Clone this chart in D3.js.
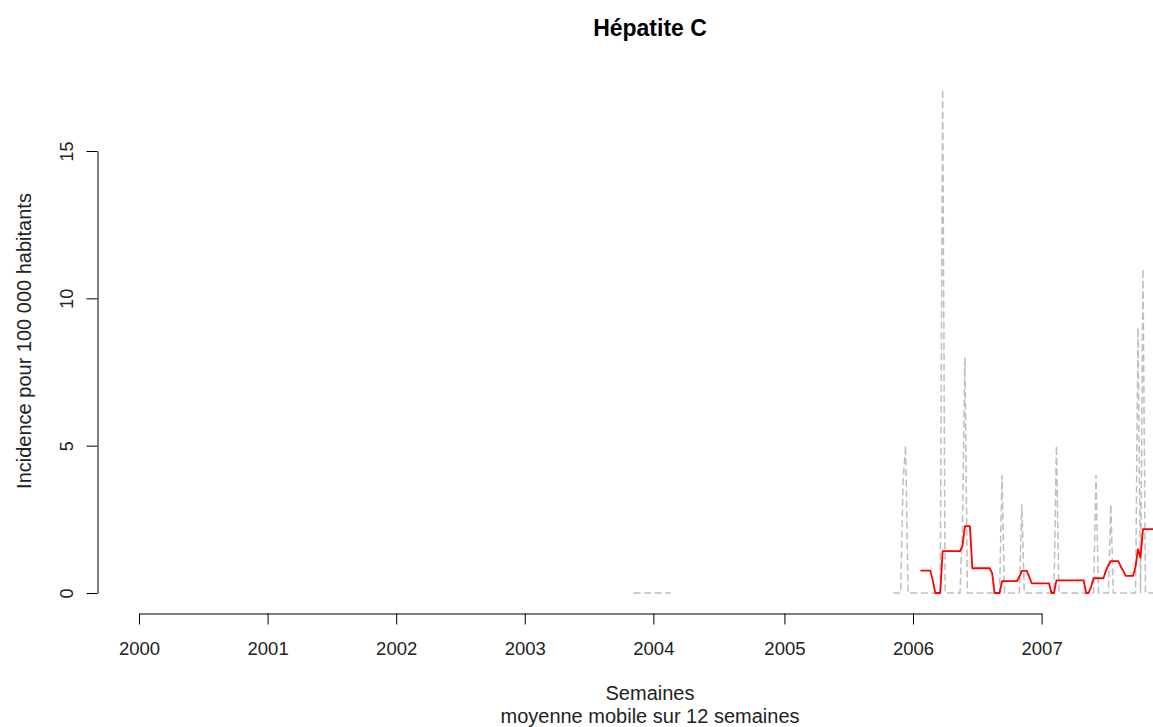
<!DOCTYPE html>
<html>
<head>
<meta charset="utf-8">
<script src="https://cdn.jsdelivr.net/npm/d3@7/dist/d3.min.js"></script>
<style>
  html, body { margin: 0; padding: 0; background: #fff; }
  svg { display: block; font-family: "Liberation Sans", Arial, sans-serif; }
</style>
</head>
<body>
<svg id="chart" width="1153" height="727"></svg>
<script>
// Weekly incidence per 100 000 inhabitants, indexed by week since the first week of 2000.
const earlyFirstWeek = 200;
const earlyIncidence = [0, 0, 0, 0, 0, 0, 0, 0, 0, 0, 0, 0, 0, 0, 0, 0];

const weeklyFirstWeek = 305;
const weeklyIncidence = [
  0, 0, 0, 0, 3.8, 5.0, 0, 0, 0, 0,            // 305-314
  0, 0, 0, 0, 0, 0, 0, 0, 0, 0,                // 315-324
  17.1, 0, 0, 0, 0, 0, 0, 0, 2.2, 8.0,         // 325-334
  0, 0, 0, 0, 0, 0, 0, 0, 0, 0,                // 335-344
  0, 0, 0, 0, 4.0, 0, 0, 0, 0, 0,              // 345-354
  0, 0, 3.0, 0, 0, 0, 0, 0, 0, 0,              // 355-364
  0, 0, 0, 0, 0, 0, 5.0, 0, 0, 0,              // 365-374
  0, 0, 0, 0, 0, 0, 0, 0, 0, 0,                // 375-384
  0, 0, 4.0, 0, 0, 0, 0, 0, 3.0, 0,            // 385-394
  0, 0, 0, 0, 0, 0, 0, 0, 0, 9.0,              // 395-404
  0, 11.0, 0, 0, 0, 0, 0, 0, 0                 // 405-413
];

// 12-week moving average
const smoothFirstWeek = 316;
const smoothIncidence = [
  0.76, 0.76, 0.76, 0.76, 0.76, 0.42, 0, 0, 0, 1.42,       // 316-325
  1.42, 1.42, 1.42, 1.42, 1.42, 1.42, 1.42, 1.6, 2.27, 2.27, // 326-335
  2.27, 0.84, 0.84, 0.84, 0.84, 0.84, 0.84, 0.84, 0.84, 0.67, // 336-345
  0, 0, 0, 0.4, 0.4, 0.4, 0.4, 0.4, 0.4, 0.4,                // 346-355
  0.55, 0.75, 0.75, 0.75, 0.55, 0.33, 0.33, 0.33, 0.33, 0.33, // 356-365
  0.33, 0.33, 0.33, 0, 0, 0.43, 0.43, 0.43, 0.43, 0.43,       // 366-375
  0.43, 0.43, 0.43, 0.43, 0.43, 0.43, 0.43, 0, 0, 0.2,        // 376-385
  0.5, 0.5, 0.5, 0.5, 0.5, 0.75, 0.95, 1.08, 1.08, 1.08,      // 386-395
  1.08, 0.9, 0.75, 0.58, 0.58, 0.58, 0.58, 0.9, 1.49, 1.2,    // 396-405
  2.17, 2.17, 2.17, 2.17, 2.17, 2.17, 2.17, 2.17              // 406-413
];

// Axis ticks: first week of each year, and y ticks
const yearStartWeeks = [0, 52, 104, 156, 208, 261, 313, 365];
const yearLabels = ["2000", "2001", "2002", "2003", "2004", "2005", "2006", "2007"];
const yTicks = [0, 5, 10, 15];

const svg = d3.select("#chart");

const x = d3.scaleLinear().domain([0, 365]).range([139, 1041.6]);
const y = d3.scaleLinear().domain([0, 15]).range([593, 151]);

const toPoints = (first, values) => values.map((v, i) => ({ w: first + i, v }));

const line = d3.line().x(d => x(d.w)).y(d => y(d.v));

// weekly series, grey dashed
[toPoints(earlyFirstWeek, earlyIncidence), toPoints(weeklyFirstWeek, weeklyIncidence)]
  .forEach(seg => {
    svg.append("path")
      .datum(seg)
      .attr("d", line)
      .attr("fill", "none")
      .attr("stroke", "#bebebe")
      .attr("stroke-width", 1.5)
      .attr("stroke-dasharray", "7,3.5");
  });

// moving average, red
svg.append("path")
  .datum(toPoints(smoothFirstWeek, smoothIncidence))
  .attr("d", line)
  .attr("fill", "none")
  .attr("stroke", "#ff0000")
  .attr("stroke-width", 1.8)
  .attr("stroke-linejoin", "round");

// y axis
const yAxis = svg.append("g")
  .attr("transform", "translate(97.5,0)")
  .call(d3.axisLeft(y).tickValues(yTicks).tickSize(11).tickSizeOuter(0));
yAxis.selectAll("text")
  .attr("x", 0).attr("dy", 0)
  .attr("text-anchor", "middle")
  .attr("transform", "translate(-25,0) rotate(-90)")
  .attr("fill", "#222")
  .style("font-size", "18px");

// x axis
const xAxis = svg.append("g")
  .attr("transform", "translate(0,613.5)")
  .call(d3.axisBottom(x).tickValues(yearStartWeeks)
    .tickFormat((d, i) => yearLabels[i]).tickSize(11).tickSizeOuter(0).tickPadding(17));
xAxis.selectAll("text").attr("fill", "#222").style("font-size", "18.5px");
[yAxis, xAxis].forEach(a => {
  a.select(".domain").attr("stroke", "#000");
  a.selectAll(".tick line").attr("stroke", "#000");
  a.attr("font-family", null).attr("font-size", null);
});

// titles
svg.append("text")
  .attr("x", 650).attr("y", 36)
  .attr("text-anchor", "middle")
  .style("font-size", "23px").style("font-weight", "bold")
  .text("Hépatite C");

svg.append("text")
  .attr("transform", "translate(31,341) rotate(-90)")
  .attr("text-anchor", "middle")
  .attr("fill", "#222")
  .style("font-size", "20px")
  .text("Incidence pour 100 000 habitants");

svg.append("text")
  .attr("x", 650).attr("y", 700)
  .attr("text-anchor", "middle")
  .attr("fill", "#222")
  .style("font-size", "20px")
  .text("Semaines");

svg.append("text")
  .attr("x", 650).attr("y", 723)
  .attr("text-anchor", "middle")
  .attr("fill", "#222")
  .style("font-size", "20px")
  .text("moyenne mobile sur 12 semaines");
</script>
</body>
</html>
